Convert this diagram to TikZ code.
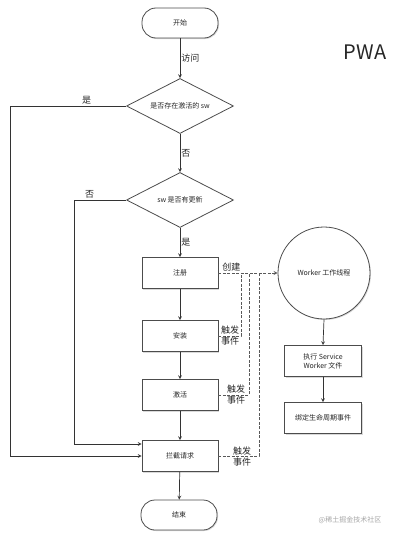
\documentclass[tikz,border=0pt]{standalone}
\usepackage{fontspec}
\setmainfont{Noto Sans CJK SC}
\usetikzlibrary{shapes.geometric,shadows}

\begin{document}
\begin{tikzpicture}[
    x=1pt, y=-1pt,
    >=stealth,
    every node/.style={font=\fontsize{7}{9}\selectfont, text=black!85},
    box/.style={
        draw=black!70,
        line width=0.8pt,
        fill=white,
        minimum width=76pt,
        minimum height=31pt,
        align=center,
        drop shadow={shadow xshift=1pt, shadow yshift=-1pt, opacity=.3}
    },
    terminal/.style={
        box,
        rounded corners=14pt,
        minimum height=30pt
    },
    decision/.style={
        draw=black!70,
        line width=0.8pt,
        diamond,
        aspect=1.95,
        inner sep=0pt,
        minimum width=107pt,
        minimum height=55pt
    },
    arr/.style={
        ->,
        draw=black!80,
        line width=0.7pt
    },
    trigger/.style={
        ->,
        draw=black!65,
        line width=0.8pt,
        dash pattern=on 3pt off 1.5pt
    },
    lbl/.style={
        font=\fontsize{9}{11}\selectfont,
        align=center,
        inner sep=1pt
    }
]
    \useasboundingbox (0,0) rectangle (401,538);

    \node[terminal] (start) at (180,23) {开始};

    \node[decision] (active) at (180,106) {是否存在激活的 sw};

    \node[decision] (update) at (180,200) {sw 是否有更新};

    \node[box] (register) at (180,273) {注册};
    \node[box] (install) at (180,336) {安装};
    \node[box] (activate) at (180,395) {激活};
    \node[box] (intercept) at (180,456) {拦截请求};

    \node[terminal] (finish) at (179,515) {结束};

    \node[draw=black!70, line width=0.8pt, circle, minimum size=92pt,
        drop shadow={shadow xshift=1pt, shadow yshift=-1pt, opacity=.3},
        fill=white] (worker) at (324,273) {Worker 工作线程};

    \node[box, minimum width=77pt] (execute) at (323,361)
        {执行 Service\\Worker 文件};
    \node[box, minimum width=77pt] (bind) at (323,418)
        {绑定生命周期事件};

    \node[font=\fontsize{20}{24}\selectfont] (title) at (365,52) {PWA};
    \node[text=black!35] (mark) at (350,520) {@稀土掘金技术社区};

    % Pomocné body pro pravoúhlé šipky
    \coordinate (yesturn) at (10,106);
    \coordinate (noturn) at (74,200);
    \coordinate (installup) at (241,273);
    \coordinate (activateup) at (249,273);
    \coordinate (interceptup) at (259,273);

    % hlavní tok
    \draw[arr] (start.south) -- node[lbl, right] {访问} (active.north);
    \draw[arr] (active.south) -- node[lbl, right] {否} (update.north);
    \draw[arr] (update.south) -- node[lbl, right] {是} (register.north);
    \draw[arr] (register) -- (install);
    \draw[arr] (install) -- (activate);
    \draw[arr] (activate) -- (intercept);
    \draw[arr] (intercept) -- (finish);

    \draw[arr]
        (active.west) --
        node[lbl, above, pos=0.34] {是} (yesturn) |-
        (intercept.west);

    \draw[arr]
        (update.west) --
        node[lbl, above, pos=0.7] {否} (noturn) |-
        ([yshift=12pt]intercept.west);

    % události
    \draw[trigger]
        (register.east) --
        node[lbl, above, pos=0.22] {创建} (worker.west);

    \draw[trigger, -]
        (install.east) -| (installup);
    \draw[trigger, -]
        (activate.east) -| (activateup);
    \draw[trigger, -]
        (intercept.east) -| (interceptup);

    \node[lbl] (installevt) at (230,336) {触发\\事件};
    \node[lbl] (activateevt) at (236,395) {触发\\事件};
    \node[lbl] (interceptevt) at (242,457) {触发\\事件};

    \draw[arr] (worker.south) -- (execute.north);
    \draw[arr] (execute) -- (bind);
\end{tikzpicture}
\end{document}
